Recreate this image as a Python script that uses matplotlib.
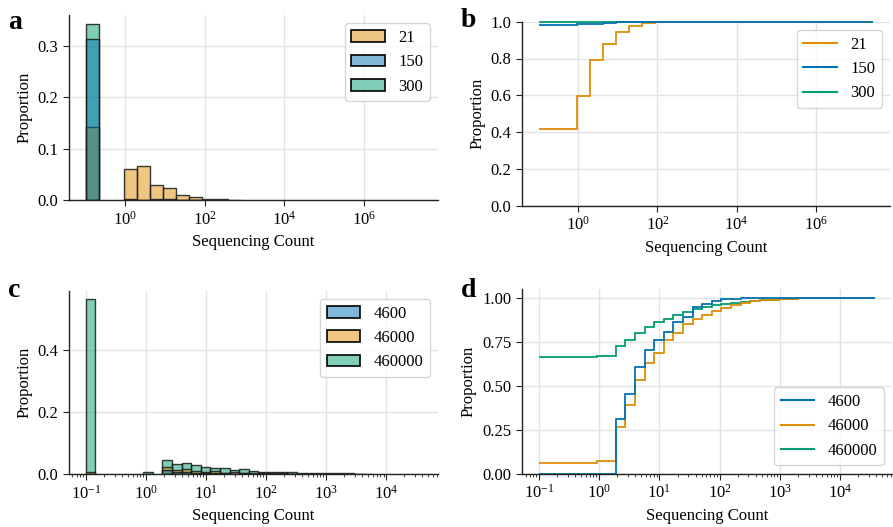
import numpy as np
import matplotlib
matplotlib.use("Agg")
import matplotlib.pyplot as plt
from matplotlib.ticker import FixedLocator, LogFormatterSciNotation, NullLocator, LogLocator, NullFormatter, MultipleLocator
from matplotlib.patches import Patch
from matplotlib.lines import Line2D

plt.rcParams['font.family'] = ['Liberation Serif', 'DejaVu Serif']
plt.rcParams['mathtext.fontset'] = 'stix'
plt.rcParams['font.size'] = 12

# ---------------- data (top row: samples 21 / 150 / 300) ----------------
top_log_min, top_log_max, top_nbins = -1.0, 7.45, 26   # zero counts shown at 10^-1
top_labels = ["21", "150", "300"]
# cumulative proportion per bin (per group)
top_cum_21 = [0.4185, 0.4185, 0.4185, 0.596, 0.790, 0.877, 0.944, 0.975, 0.991, 0.996, 0.999,
              1, 1, 1, 1, 1, 1, 1, 1, 1, 1, 1, 1, 1, 1, 1]
top_cum_150 = [0.984, 0.984, 0.984, 0.988, 0.988, 0.993, 0.997, 0.999, 1, 1, 1,
               1, 1, 1, 1, 1, 1, 1, 1, 1, 1, 1, 1, 1, 1, 1]
top_cum_300 = [0.997, 0.997, 0.997, 0.999, 1, 1, 1, 1, 1, 1, 1,
               1, 1, 1, 1, 1, 1, 1, 1, 1, 1, 1, 1, 1, 1, 1]
# share of all observations held by each group (panel a uses a common normalisation)
top_share = [0.338, 0.318, 0.344]

# ---------------- data (bottom row: samples 4600 / 46000 / 460000) ----------------
bot_log_min, bot_log_max, bot_nbins = -1.0, 4.58, 35
bot_labels = ["4600", "46000", "460000"]
bot_cum_4600 = [0, 0, 0, 0, 0, 0, 0, 0, 0.312, 0.454, 0.605, 0.707, 0.764, 0.808, 0.864,
                0.893, 0.949, 0.967, 0.984, 0.993, 0.996, 0.998, 1, 1, 1, 1, 1, 1, 1, 1,
                1, 1, 1, 1, 1]
bot_cum_46000 = [0.063, 0.063, 0.063, 0.063, 0.063, 0.063, 0.072, 0.072, 0.266, 0.390, 0.533,
                 0.633, 0.686, 0.762, 0.804, 0.855, 0.882, 0.905, 0.928, 0.944, 0.962, 0.971,
                 0.983, 0.988, 0.991, 0.994, 0.997, 0.999, 1, 1, 1, 1, 1, 1, 1]
bot_cum_460000 = [0.6635, 0.6635, 0.6635, 0.6635, 0.6635, 0.6635, 0.671, 0.671, 0.726, 0.764,
                  0.804, 0.8365, 0.862, 0.883, 0.905, 0.919, 0.939, 0.951, 0.960, 0.966, 0.972,
                  0.978, 0.983, 0.988, 0.991, 0.994, 0.996, 0.998, 0.999, 1, 1, 1, 1, 1, 1]
bot_share = [0.042, 0.11, 0.848]

# ---------------- styling ----------------
C_BLUE, C_ORANGE, C_GREEN = "#0173B2", "#DE8F05", "#029E73"
top_colors = [C_ORANGE, C_BLUE, C_GREEN]
bot_colors = [C_BLUE, C_ORANGE, C_GREEN]
draw_order = {"top": [2, 0, 1], "bot": [2, 1, 0]}   # green, orange, blue (blue on top)

W, H = 893, 527
fig = plt.figure(figsize=(W / 100, H / 100), dpi=100)


def pos(l, t, r, b):
    return [l / W, 1 - b / H, (r - l) / W, (b - t) / H]


ax_a = fig.add_axes(pos(69, 15, 438, 200))
ax_b = fig.add_axes(pos(522, 21.7, 890, 205.7))
ax_c = fig.add_axes(pos(69, 290.7, 438, 474))
ax_d = fig.add_axes(pos(522, 289.3, 892, 473.7))

GRID = "#e3e3e3"
SPINE = "#222222"


def style(ax):
    ax.set_xscale("log")
    for s in ["top", "right"]:
        ax.spines[s].set_visible(False)
    for s in ["left", "bottom"]:
        ax.spines[s].set_color(SPINE)
        ax.spines[s].set_linewidth(1.0)
    ax.grid(True, which="major", color=GRID, linewidth=1.0)
    ax.set_axisbelow(True)
    ax.tick_params(which="both", color=SPINE, labelsize=12, direction="out")
    ax.tick_params(which="major", length=4)
    ax.tick_params(which="minor", length=2.5)
    ax.set_xlabel("Sequencing Count", fontsize=12)
    ax.set_ylabel("Proportion", fontsize=12)


def hist_panel(ax, cums, shares, colors, order, edges):
    for i in order:
        cum = np.asarray(cums[i], dtype=float)
        pmf = np.diff(np.concatenate([[0.0], cum])) * shares[i]
        m = pmf > 0
        left = edges[:-1][m]
        width = (edges[1:] - edges[:-1])[m]
        ax.bar(left, pmf[m], width=width, align="edge",
               facecolor=matplotlib.colors.to_rgba(colors[i], 0.5),
               edgecolor=(0.1, 0.1, 0.1, 0.85), linewidth=1.0)


def cdf_panel(ax, cums, colors, order, edges):
    for i in order:
        ax.stairs(cums[i], edges, baseline=None, color=colors[i], linewidth=1.3,
                  clip_on=False)


top_edges = np.logspace(top_log_min, top_log_max, top_nbins + 1)
bot_edges = np.logspace(bot_log_min, bot_log_max, bot_nbins + 1)
top_cums = [top_cum_21, top_cum_150, top_cum_300]
bot_cums = [bot_cum_4600, bot_cum_46000, bot_cum_460000]

# panel a
style(ax_a)
hist_panel(ax_a, top_cums, top_share, top_colors, draw_order["top"], top_edges)
ax_a.yaxis.set_major_locator(MultipleLocator(0.1))
ax_a.legend(handles=[Patch(facecolor=matplotlib.colors.to_rgba(c, 0.5), edgecolor="black",
                           linewidth=1.2, label=l) for c, l in zip(top_colors, top_labels)],
            loc="upper right", fontsize=12)

# panel b
style(ax_b)
cdf_panel(ax_b, top_cums, top_colors, draw_order["top"], top_edges)
ax_b.set_ylim(0, 1.0)
ax_b.yaxis.set_major_locator(MultipleLocator(0.2))
ax_b.legend(handles=[Line2D([], [], color=c, lw=1.5, label=l) for c, l in zip(top_colors, top_labels)],
            loc="upper right", fontsize=12)

for ax in (ax_a, ax_b):
    ax.set_xlim(10 ** -1.42, 10 ** 7.87)
    ax.xaxis.set_major_locator(FixedLocator([1, 1e2, 1e4, 1e6]))
    ax.xaxis.set_major_formatter(LogFormatterSciNotation())
    ax.xaxis.set_minor_locator(NullLocator())

# panel c
style(ax_c)
hist_panel(ax_c, bot_cums, bot_share, bot_colors, draw_order["bot"], bot_edges)
ax_c.yaxis.set_major_locator(MultipleLocator(0.2))
ax_c.legend(handles=[Patch(facecolor=matplotlib.colors.to_rgba(c, 0.5), edgecolor="black",
                           linewidth=1.2, label=l) for c, l in zip(bot_colors, bot_labels)],
            loc="upper right", fontsize=12)

# panel d
style(ax_d)
cdf_panel(ax_d, bot_cums, bot_colors, draw_order["bot"], bot_edges)
ax_d.set_ylim(0, 1.05)
ax_d.yaxis.set_major_locator(FixedLocator([0, 0.25, 0.5, 0.75, 1.0]))
ax_d.yaxis.set_major_formatter(matplotlib.ticker.FormatStrFormatter("%.2f"))
ax_d.legend(handles=[Line2D([], [], color=c, lw=1.5, label=l) for c, l in zip(bot_colors, bot_labels)],
            loc="lower right", fontsize=12)

for ax in (ax_c, ax_d):
    ax.set_xlim(10 ** -1.28, 10 ** 4.86)
    ax.xaxis.set_major_locator(FixedLocator([1e-1, 1, 1e1, 1e2, 1e3, 1e4]))
    ax.xaxis.set_major_formatter(LogFormatterSciNotation())
    ax.xaxis.set_minor_locator(LogLocator(base=10, subs=np.arange(2, 10), numticks=30))
    ax.xaxis.set_minor_formatter(NullFormatter())

# panel letters
for txt, x, y in [("a", 8, 10), ("b", 461, 8), ("c", 8, 278), ("d", 461, 278)]:
    fig.text(x / W, 1 - y / H, txt, fontsize=20, fontweight="bold", va="top", ha="left")

fig.savefig("out.png", dpi=100)
